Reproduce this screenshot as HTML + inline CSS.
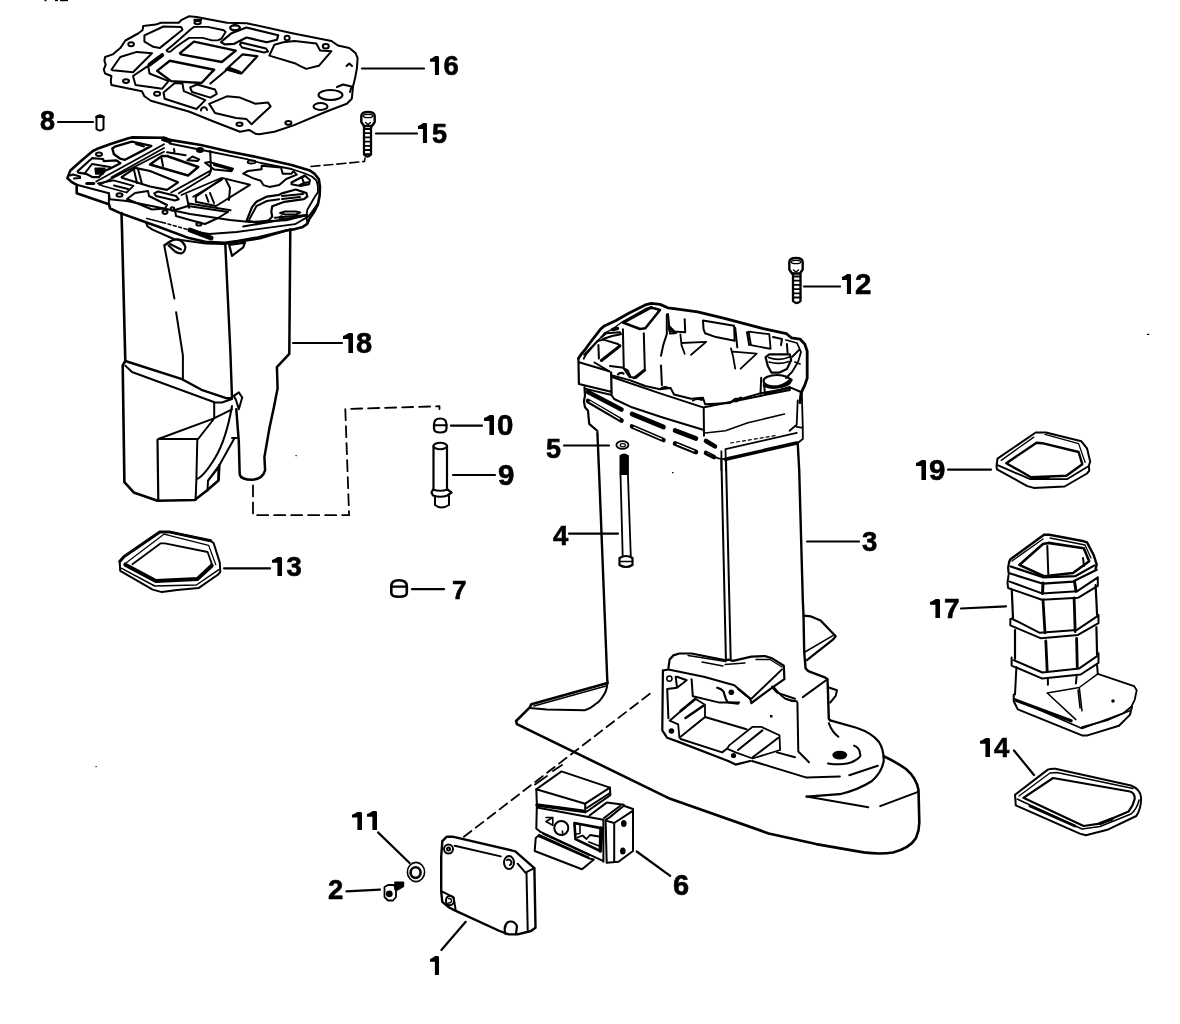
<!DOCTYPE html>
<html><head><meta charset="utf-8"><style>
html,body{margin:0;padding:0;background:#fff;width:1180px;height:1024px;overflow:hidden}
svg{display:block;will-change:transform}
.t{font-family:"Liberation Sans",sans-serif;font-weight:bold;fill:#000;stroke:#000;stroke-width:0.6px}
.t path{stroke:none}
</style></head><body>
<svg width="1180" height="1024" viewBox="0 0 1180 1024">
<g fill="none" stroke="#000" stroke-width="2" stroke-linejoin="round" stroke-linecap="round">

<!-- PART 16 gasket -->
<g id="p16">
<path d="M188.8 16.3L196.5 17L226.9 22.7L246.5 23.2L293.5 33.4L331.5 41L337.9 45.5L349.3 48L355.6 53.1L357.6 58.2L356.9 68.3L355 78.5L353.1 86.1L351.8 98.8L346.8 103.8L326.5 111.5L293.5 125.4L274.4 131.8L259.2 134.3L255.4 133.7L249 129.9L240 131.8L214.2 121.7L188.8 111.5L150.8 100.7L144.4 96.3L141.9 91.2L111.4 84.9L110.8 81.1L111.4 76L105.1 73.5L103.8 69.7L105.7 64.6L104.4 60.8L105.1 57L112.7 54.4L120.3 48.1L125.4 40.5L138.1 33.5L142.5 30.3L143.2 25.9L155.8 24.6L160.9 22.7L178.7 22.7L181.2 20.2Z"/>
<path d="M144.4 35.4L163.5 26.5L181.2 27.1L182.5 29.7L159.7 48.1L153.3 46.8L144.4 41.7Z"/>
<path d="M111.4 69.7L120.3 57L136.8 51.9L152 53.2L133 72.2L112.7 70.3Z"/>
<path d="M166.5 50.3L173.9 44.2L190.8 29.2L194.2 26.9L207.8 26.9L223.9 30.3L225.6 32L221.4 38.7L218 40.4L212 40.4L202.7 37.9L189.2 37.9L180.5 43.8Q175 47.5 170.8 51.3Q167.5 52.5 166.5 50.3Z" stroke-width="1.9"/>
<path d="M180 53.2L193.9 41.7L235.8 50.6L221.8 62L181.2 54.4Z" stroke-width="2.4"/>
<path d="M149.5 64.6L162.2 55.1" stroke-width="4"/>
<path d="M157.1 70.9L169.8 60.8L214.2 69.7L201.5 83L171.1 81.1L160 73Z" stroke-width="2.4"/>
<path d="M133 76L148.2 65.8L149.5 73.5L168.5 81.1L162.2 88.7L135.5 84.9Z"/>
<path d="M163.5 92.5L174.9 83L182.5 83.6L183.8 91.2L205.3 100.1L196.5 109L164.7 98.8Z"/>
<path d="M190.1 87.4L197 84.5L215 89.5L216.8 93.8L210.4 97.6L192 92Z"/>
<path d="M209.2 103.9L226.9 96.3L240 97.6L255.4 103.8L268.1 102.6L270.6 106.4L251.6 124.2L246.5 119.1L236 118L215 113Z"/>
<path d="M210.4 83.6L226.9 69.7"/>
<path d="M226 69.5L242.7 54.3L257.3 56.2L241.4 73.4Z" stroke-width="2.2"/>
<path d="M229 68.5L239.5 72.5" stroke-width="3.6"/>
<path d="M221 42L231 33.6L246.4 27.5L278.2 35.3L277 39.7L266.8 42.3L246.5 37.5L234.2 43.8L224.7 44.4Z" stroke-width="2.2"/>
<path d="M241 42.5L266 48.5L268 51.5L264 52.5L242 47.5L240 44.5Z"/>
<path d="M269.3 55.6L274.4 44.8L283.3 42.3L294.7 41L316.3 43.6L320.1 50.5L331.5 51.2L318.8 65.8L306.2 68.9L299.8 65.8L294.7 63.2Z"/>
<ellipse cx="330.5" cy="95" rx="12" ry="5"/>
<ellipse cx="320.5" cy="106.5" rx="7" ry="3.5"/>
<path d="M337 87L343 84.5L351.5 86.5L350 92"/>
<path d="M346.5 66L349.3 63.5L352 66"/>
<ellipse cx="131.1" cy="44.3" rx="2.8" ry="2"/>
<ellipse cx="126" cy="81.1" rx="3" ry="1.8"/>
<ellipse cx="157.1" cy="93.8" rx="3" ry="2"/>
<ellipse cx="197.6" cy="22.6" rx="3.2" ry="1.7" stroke-width="2"/><path d="M194.5 20H201" stroke-width="2.4"/>
<ellipse cx="235" cy="27.8" rx="4.8" ry="2.6" stroke-width="2.4"/>
<ellipse cx="287.1" cy="38" rx="2.5" ry="2.2"/>
<ellipse cx="325.8" cy="46.3" rx="3" ry="2.2"/>
<ellipse cx="288.4" cy="122.9" rx="3" ry="1.8"/>
<ellipse cx="239.5" cy="124.2" rx="3" ry="1.8"/>
<path d="M201 110.5A3 3 0 1 1 207 110"/>
</g>

<!-- PART 18 top plate -->
<g id="p18plate">
<path d="M67.4 178.1L70.4 170.4L81 161.1L92.8 151L96.2 149.3L109.8 144.2L128.4 138.2L132.6 137.4L164.4 137.8L169.5 139.9L200.8 145L230 151.8L256.4 157L291.5 165L309.1 170.2L314.4 173.7L318.8 179L320 186.9L319.6 195.7L317.9 204.5L314.4 211.5L309.1 219.4L307.3 223.8L302 227.3L295 229.1L286.2 230.5L256 237.9L237.4 241L224.8 242.8L205.3 241.8L189 238.1L158.5 226.7L145.8 222.2L120.3 213.1L110.2 208.5L108.9 204.3L76.7 193.3L76.7 184.8L71.9 182.2Z" stroke-width="2.6"/>
<path d="M76.7 184.8L108.9 193.3L109.8 199.3L126.7 201L164 208.6L190 214L230 220L250 222L286.2 220.3L307.3 215"/>
<path d="M108.9 193.3V204.3"/>
<path d="M169.5 143.5L209.3 151.5L245.8 158.8L260.8 163L291.5 169L305 173.5L312 176.5L316.5 180.5L317.9 186L317.9 192.2L314.4 197.5L307.3 209.8L306.4 216.8L307.3 222.1" stroke-width="1.8"/>
<path d="M163.6 139L169.5 141" stroke-width="5"/>
<path d="M112.3 148.4L114.8 146.7L131.8 141.6L151.3 145.9L143.7 150.1L125 159.8L120 158.6L114 154.3Z" stroke-width="2.4"/>
<path d="M136 144L144 146.5"/>
<path d="M77.6 171.3L92 158.2L103 159L103.8 161.1L116.5 160.3L120.4 163.2L109.8 168.7L105.5 170.4L98.7 177.2L92.8 177.2L86 173.8L78.4 172.6Z" stroke-width="2.2"/>
<path d="M85 173L92 164L104 166L110 167"/>
<path d="M95.4 168.5L104.7 168.5L103 173.8L96 173.8Z" fill="#000"/>
<ellipse cx="99" cy="154.3" rx="3" ry="1.7"/>
<path d="M70 175.5L73 174.5L80 176.5L80.1 178.1L74 178.5" />
<path d="M86.9 183.5H93.7" stroke-width="3.2"/>
<path d="M96.2 181.5L164 144.2M99.6 184.8L164 151.8M111.5 177.2L164 148" stroke-width="1.8"/>
<path d="M150 164.5L161.9 156L167 156L198.3 167L188.1 175.5Z" stroke-width="2.4"/>
<path d="M161.5 158L163 166"/>
<path d="M187.3 160.3L192.4 156.5L199.2 159.4L197.5 161.1Z"/>
<path d="M167 152.2L185.6 155.2M174 149L174.5 152"/>
<ellipse cx="200" cy="150.1" rx="3" ry="2" fill="#000"/>
<path d="M205 162.8L209.3 162L233 168.7L231.4 171.3L214.4 169.6Z M214 165L231 169.5"/>
<path d="M210.2 151L211 170.4L209.3 174.7"/>
<path d="M121.6 177.2L135.2 167.9L150 171L178 182.3L167 189.9L150 186.5L122.5 178Z" stroke-width="2.2"/>
<path d="M134 170L137 183M138 169L142 184"/>
<path d="M171.2 192.5L211 170.4M178.8 193.3L209.3 174.7M181.4 195L221.2 178M193.2 196.7L222 179.8" stroke-width="1.8"/>
<path d="M195.8 196.7L222.9 178.1L250 184.8L216.1 206L195.8 201.8Z" stroke-width="2"/>
<path d="M205.9 195L208.5 201.8M210 193L214 203M226 180L230 188L229 200"/>
<path d="M154.2 193.3L158 191.5L176 196L178.8 199.3L175 200.5L156 196Z"/>
<path d="M98 183.5L103 186L126.5 192.5L133.5 185.8L113.5 180.3Z" stroke-width="1.8"/><path d="M114 185.5L128 189"/>
<ellipse cx="119.5" cy="195" rx="3" ry="1.7"/>
<path d="M127 199L135 193L148 191L149 196L167 205L165 208.5L152 209.5Z"/>
<path d="M186.4 195L189 207.7M189 203.5L230.5 210.3"/>
<circle cx="172.4" cy="209" r="1.8"/>
<path d="M175 210L188 206L215 210L228 212L218 218L205 224L190 220L176 216Z"/>
<path d="M243.2 173.7L252.8 178.1L260.8 180.8L263.4 185.1L269.5 186.9L279.2 185.1L286.2 179L296.8 174.6L293.3 171.1L291.5 173.7L282.7 173.7L281 167.6L261.6 165.8L261.6 169.3L247.6 171.1Z" stroke-width="2"/>
<ellipse cx="251.6" cy="161.9" rx="4" ry="1.6" stroke-width="1.8"/>
<path d="M291.5 182.5L304.7 175.5L310 179.9L309.1 184.3L300.3 186L291.5 184.3Z M302 178L304 183L300 185M304 183L309 182"/>
<path d="M246.7 220.3L252 207.1L256.4 201.8L266.9 196.6L279.2 194.8L282.7 193.1L295.9 189.5L306.4 193.1L307.3 196.6L303.8 199.2L284.5 201.8L272.2 206.2L271.3 211.5L272.2 216.8L268.7 220.3L257.2 222.9Z" stroke-width="2.2"/>
<path d="M249.3 219.4L256.4 206.2L266.9 201L279.2 199.2M282 196L303 194M282 199L300 197"/>
<path d="M280.1 213L285 211.5L296 211.5L300.3 212.4L296 214.5L285 214.5Z"/>
<circle cx="281.4" cy="217.7" r="1.5"/>
<path d="M274.8 217.7L307.3 215"/>
<path d="M243.2 226.4L269.5 222.1L307.3 215"/>
<ellipse cx="165" cy="212.1" rx="2.5" ry="1.8"/>
<ellipse cx="198.9" cy="224" rx="2.6" ry="1.6"/>
<path d="M190 230L211 238" stroke-width="5"/>
<path d="M300 178L305 176" />
</g>
<!-- PART 18 body -->
<g id="p18body">
<path d="M121.5 213L122 230L125.3 361L122.7 365.3L124.4 482.2L133.7 492.4L157.5 500.8L194.7 500L206.6 490.7L218.5 480.5L219.3 465.3" stroke-width="2.6"/>
<path d="M125.3 361L181.2 378.8L201.5 389.8L226.9 398.3L232 398.3" stroke-width="2.4"/>
<path d="M125.3 365.6L132 372L215.1 402.5L221.9 402.5L232 399"/>
<path d="M214.2 402.5V417.8"/>
<path d="M158.3 439L198.1 439L213.4 419.5M158.3 439L213.4 418.6L232 409.3" />
<path d="M157.5 439.8L158.3 500.8" stroke-width="2.2"/>
<path d="M197.3 439.8L196.4 478.8L195.6 500"/>
<path d="M232 406Q226 440 215 458T197.3 478.8"/>
<path d="M234 439L219.3 465.3L208 480.5L207.5 490.7"/>
<path d="M208.3 480.5L218.5 467.5L218.5 480.5"/>
<path d="M233.7 395.8L238.8 392.4L242.2 397.5L238.8 409.3L236 400Z"/>
<path d="M236.3 409.3L238.8 441.5L239.7 474.6Q241 479.7 252.4 479.7Q262.5 479 265.1 470.3L264.4 457.1L269.5 427.8L273.9 407.3L277.6 388.3L276.9 367.1L289.3 353.9L290.3 229.5" stroke-width="2.5"/>
<path d="M232 438H237"/>
<path d="M225.3 244.4L230.3 350L232 397.5" stroke-width="2.4"/>
<path d="M164.2 245.3L174.4 298.6M176.1 312.2L182.9 355.4L182.9 380"/>
<path d="M164.9 245L170 241.5Q174 239 178.5 239.6Q183.5 241.5 185.4 247Q185 252 181.5 253.4Q178 253.6 175 251.5L168.6 245.5" stroke-width="2.2"/><path d="M170 244L181 249.5"/>
<path d="M229.2 245L245 242.7L243.2 247.4L232 255.8Z" stroke-width="2.2"/>
<path d="M146.2 222.9L147.5 226.3L152.5 229.7L173.7 239L205.9 243.6L224.6 244.1L260 238.5L290 229.5"/>
<path d="M146.8 218.4L162.7 222.5" stroke-width="1.6"/><path d="M162.7 222.5L189.7 230.1L200 232.3" stroke-width="1.5" stroke-dasharray="3 2.5"/><path d="M200 232.3L209.2 234L236.5 232L295 224.2L308.6 216.4L318.3 202.8" stroke-width="1.8"/>
</g>
<path d="M253 485.4V515.2H349.1L345.3 409L439.5 406.2V409" stroke-dasharray="11 6" stroke-width="1.8"/>
<!-- pins -->
<g id="pins">
<path d="M434 424.5Q434 418.5 440.2 418.5Q446.5 418.5 446.5 424.5V428.5Q446.5 432.5 440.2 432.5Q434 432.5 434 428.5Z" stroke-width="2.2"/>
<path d="M434 425.3H446.5" stroke-width="2"/>
<path d="M433.5 446V490M447 446V490" stroke-width="2.2"/>
<ellipse cx="440.2" cy="446" rx="6.8" ry="3.2"/>
<path d="M431.5 492.5L433 489.5Q440 492 447.5 489.5L451.5 492.5L447.5 495.5Q440 498 433 495.5Z" stroke-width="2.2"/>
<path d="M435 496V505Q441 510 449 505V496" />
<path d="M96.5 117V129Q100 132 103.5 129V117Z"/>
<path d="M96.5 117Q100 114 103.5 117" stroke-width="2.6"/>
<path d="M391.3 586Q391.3 580.2 399 580.2Q406.8 580.2 406.8 586V593Q406.8 596.8 399 596.8Q391.3 596.8 391.3 593Z" stroke-width="2.6"/>
<path d="M391.3 586.6H406.8" stroke-width="2.4"/>
</g>
<!-- screws 15 and 12 -->
<g id="screws">
<path d="M361.3 116Q361.5 112 368.0 112Q374.5 112 374.7 116V122L372.0 126H364.0L361.3 122Z" stroke-width="2.4"/>
<ellipse cx="368.0" cy="116" rx="4.7" ry="1.6" stroke-width="1.4"/>
<path d="M365.5 122.5L368.0 124.5L370.5 122.5" stroke-width="1.4"/>
<path d="M364 126V154.5Q367.5 158.5 371 154.5V126" stroke-width="2.3"/>
<path d="M364 129.0H371M364 133.2H371M364 137.4H371M364 141.6H371M364 145.8H371M364 150.0H371M364 154.2H371" stroke-width="1.8"/>
<path d="M789.3 262Q789.5 258 796.0 258Q802.5 258 802.7 262V269.5L800.0 273.5H792.0L789.3 269.5Z" stroke-width="2.4"/>
<ellipse cx="796.0" cy="262" rx="4.7" ry="1.6" stroke-width="1.4"/>
<path d="M793.5 270.0L796.0 272.0L798.5 270.0" stroke-width="1.4"/>
<path d="M793 273.5V301.0Q796.75 305.0 800.5 301.0V273.5" stroke-width="2.3"/>
<path d="M793 276.5H800.5M793 280.7H800.5M793 284.9H800.5M793 289.1H800.5M793 293.3H800.5M793 297.5H800.5" stroke-width="1.8"/>
</g>
<path d="M311 166.5L364.5 161.5L365 158" stroke-dasharray="9 4" stroke-width="1.6"/>

<!-- PART 3 main housing -->
<g id="p3">
<!-- rim outline -->
<path d="M578.4 358.6L580.9 354.7L585.7 348.8L590.6 342L600.4 329.3L604.3 325.9L616 320.5L629.7 312.7L645.3 304.9L651.2 303.4L660 304.4L667.8 307.8L674 308.6L697.6 311.8L724.4 318.3L763.2 328.7L786.4 333.6L791.3 337.8L799.9 339.1L804.7 343.9L807.2 351.3L807.2 378.1L804.7 385.4L801.1 392.8L799.9 402.5" stroke-width="2.8"/>
<path d="M583.8 354.7L587.7 350.8L601.4 337.1L604.3 333.2L612.1 329.3L622.9 321.5L645 309L652 306.5" stroke-width="1.4"/>
<path d="M578.4 358.6L578.9 384L611.1 391.8M579.9 362.5L609.2 371.3M611.1 372.3L611.6 393.8" stroke-width="2.2"/>
<path d="M611.1 375.2L629.7 380.1L645.3 386L660 389.2L670.7 388.1L674 394.5L691.1 398.8L703 397.7L705.1 404.2L729.8 403.1L735.2 398.8L741.6 398.8L760 393.4L791.3 387.9L801 392" stroke-width="2"/>
<path d="M612 377L660 393.4L703 407.4L760 396L790 390"/>
<!-- left compartment -->
<path d="M583.8 358.6L585.7 354.7L597.5 341L603.3 339.6L618 344L620 345.9L604.3 358.6" stroke-width="2"/>
<path d="M598.4 345L598.9 358.6"/>
<path d="M601.4 360.5L620 345.9" stroke-width="3"/>
<path d="M601.4 337.1L606.3 333.2L620 332.2L621 334.2L612 336L603 339"/>
<path d="M612.5 329.5L617.5 328.5" stroke-width="3.5"/>
<path d="M594.5 362.5L609.2 371.3M610 366L621.9 367.4L627.7 370.3L630.7 377.1L635.5 378.1L645.3 370.3"/>
<!-- tall block -->
<path d="M622.9 322.5L627 320.5L650.6 307.8L655 308.5L660 310L645.3 328.3L640 329Z" stroke-width="2.6"/>
<path d="M622.9 329.3L623.8 368.4M643.8 333.2L644.8 369.3L633.6 378.1M623.8 368.4L629.7 377.1" stroke-width="2"/>
<path d="M666.8 314.6L666.8 334.2Q663 344 661 355.7M661 365.4L661.9 385" stroke-width="2"/>
<path d="M668.8 326.4L674.6 333.2L670 333.5Z"/>
<path d="M618 374.5Q620 372 623.5 373.5" stroke-width="2.2"/>
<path d="M661 388.5Q664 386 668.5 388" stroke-width="2"/>
<path d="M693 400.5Q697 398 702 400" stroke-width="2"/>
<path d="M736 401L741 398" stroke-width="3"/>
<!-- mid compartments -->
<path d="M668 314L669.7 331.2L685.2 332.2L684.7 319.3M669 326L676 333" stroke-width="2"/>
<path d="M680.4 334.4L681.5 345.1L684.7 353.7M681.5 343L706.2 341.9L691.1 354.8" stroke-width="1.8"/>
<path d="M703 320.4L734.1 325.8L734.7 340.8L715.9 337.1L705.1 333.3L703.5 329Z" stroke-width="2"/>
<path d="M730.9 348.3L733 355.9L735.2 368.7M733 351.6L756.7 353.7L740.6 368.7" stroke-width="1.8"/>
<path d="M735.2 327.9L737.3 347.3M747 332.2L749.2 345.1"/>
<path d="M748.6 331.7L769.3 334.2L770.6 348.8L751 345.2Z" stroke-width="1.8"/>
<!-- right bosses -->
<path d="M765.6 357.2L769.3 354.3L789.8 354.3L791.2 360.1L786.9 368.9L779.5 372.6L771.5 372.6L767.8 366Z" stroke-width="2.2"/>
<path d="M768.5 357.5Q779 361.5 789.5 357M769 362Q779 365 789 361.5" stroke-width="1.6"/>
<path d="M786.9 344L787.6 352.8"/>
<ellipse cx="777" cy="381" rx="13.5" ry="6" stroke-width="2.2"/><path d="M764.5 385.5Q778 391 791 380" stroke-width="3.4"/><path d="M761.2 377.7L760.5 393.8" stroke-width="2"/>
<path d="M764 384L765 394L790 387"/>
<path d="M786 340L797 343L801 352L798 362L792 372L786 378M792 357L799 350M795 362L800 364" stroke-width="1.8"/>
<path d="M773 337L782 339L781 345" />
<!-- skirt -->
<path d="M584.5 387.1L585 395.4L583.9 401.4L585 407.3L588 410.8L589.2 423.9L597.5 431" stroke-width="2.2"/>
<path d="M585.7 388.9L610.6 394.8"/>
<g stroke-width="4.6">
<path d="M588 392L621.5 409.5M588 401L621.5 420.5M632 414L663.5 427M632 426.5L663.5 440M675 430.5L696 438.5M675 443.5L696 452M706 441L715 446.4M706 453L714 457"/>
</g>
<g stroke="#fff" stroke-width="1.2">
<path d="M590 401.5L619.5 419M634 427.2L661.5 439M677 444L694 451M707 453.3L713 456.3"/>
</g>
<path d="M611.8 395.4L614.1 399L631.9 407.3L660.4 416.8L675.8 421.5L703.1 429.8" stroke-width="2"/>
<path d="M703.7 408.5L704 435.8" stroke-width="2"/>
<path d="M705.2 432.9L725.5 430.8L747.9 422.7L784.5 414.1" stroke-width="1.5"/>
<path d="M725.5 449.2L796.7 432.9" stroke-width="1.8"/>
<path d="M725.5 459.3L796.7 443" stroke-width="3.6"/>
<path d="M730.6 443L776.4 435.4" stroke-width="1.2" stroke-dasharray="3 3"/>
<path d="M796.7 426.8L802.8 427.8L802.8 439L797.7 443M789.6 430.8L796.7 424.7L797.7 400.3M801.8 392.2L802.8 427.8" stroke-width="1.8"/>
<path d="M721.4 451.2L721.4 470M725.5 450.2L726 470M705 453L718.4 458.3L725 459" stroke-width="1.8"/>
<!-- tube -->
<path d="M597.4 432.9L599.4 480L607.3 680.7" stroke-width="2.4"/>
<path d="M721.4 460L725.9 659.3M726 460L730.7 659.3" stroke-width="2"/>
<path d="M797.7 443L799.2 470L802.8 600L803.5 615L804.2 652L805.6 668.4L808.3 671.1L824.7 677.3L827.5 679.3L828.1 695.8L828.8 719L830.2 720.4" stroke-width="2.4"/>
<path d="M803.5 615.7L811 616.4L820.6 620.5L835.7 636.3L832.9 639.7L806.9 660.2" stroke-width="2.2"/>
<path d="M804.9 652L832.9 635.6" stroke-width="1.6"/>
<!-- cavitation plate -->
<path d="M607.6 681.4Q607 690 604.6 693.6Q600 702 595.4 704.2Q590 709 584.7 710.3L546.6 709.6L529.8 708" stroke-width="2"/>
<path d="M607.6 682.9L531.4 704.2L529.8 707.3L516.1 721L516.9 724.1L670.2 798.8L768.7 833.4L816.1 844.1L863.6 852.4Q880 854.5 893 852.5Q910 848 916 838Q919.5 830 919.3 822L918.5 790Q916.5 778 906 769Q896 762 883.7 756.3" stroke-width="2.6"/>
<path d="M606 686L534 706" stroke-width="1.4"/>
<!-- right tail -->
<path d="M830.2 720.4L856.4 727.8Q872 733 879 742Q884 750 883.7 761Q882 772 872 781Q858 790 839.8 794.2L806.6 796.6" stroke-width="2.2"/>
<path d="M806.6 796.6L868.3 807.3M880.2 806.1L918.1 791.9"/>
<path d="M752 761L806.6 777.6L839.8 776.4M849.3 775.3L877.8 765.8"/>
<ellipse cx="839.8" cy="755.1" rx="6.5" ry="3.4" fill="#000"/>
<path d="M828 763.4Q845 766 854.1 761Q862 757 860 753.9Q860 748 854.1 745.6" />
<path d="M828.8 723.1Q832 732 838.4 736.8"/>
<path d="M828.8 687.5L837 690.3L835.7 695.8L830.2 702.6M827.5 679.3L802.8 697.1"/>
<path d="M797.4 702.6L798.3 751.5L809 762.2M774.1 687.5Q780 695 785 698.5Q790 701 796.7 701.2"/>
<!-- water pickup box -->
<path d="M668.4 668.2L669.6 659.6L673.3 655.4L679.4 653.5L691.6 653.5L725.8 660.3L728.2 659.6L733.1 660.9L751.4 656.6L764.9 656L772.2 658.4L783.8 665.7L784.4 679.2L772.2 687.7L751.4 703L750.2 698.7L738 688.9" stroke-width="2.2"/>
<path d="M662.9 670.6L668.4 669.4L703.8 676.7L734.3 685.3L750.2 698.7M782 669.4L751.4 698.7" stroke-width="2"/>
<path d="M688 655.5L726 661.5M702 662L723 666M725 664.5L745 663M756 659.5L770 659.5L782 667" stroke-width="1.3"/>
<path d="M662.9 670.6L662.3 730.4L667.2 737.8L680.6 742.6L728.2 761L735.6 764.6L750.2 761" stroke-width="2.2"/>
<path d="M667.2 689L668.4 718.2M667.2 689L677 687.7L675.7 676.7M677 676.7L686.7 680.2L677 687.7"/>
<circle cx="669.4" cy="678.6" r="2.6" stroke-width="1.5"/>
<circle cx="671.4" cy="731" r="2.8" fill="#000" stroke="none"/>
<path d="M691.6 679.2L692.8 696.3L718.5 702.4L739.2 702.4"/>
<path d="M717.2 687.7Q722 689 723.4 691.4L725.8 698.7Q727 702 728.2 702.4L738 703.6" stroke-width="2.2"/>
<circle cx="731.3" cy="692.2" r="2.8" fill="#000" stroke="none"/>
<path d="M739.2 689.5L750.2 698.7"/>
<path d="M669.6 720.7L695.3 698.7L705 704.8L705 717L679.4 737.8L678.2 724.3Z" stroke-width="1.8"/>
<path d="M680.6 711L695.3 699M685.5 718L703 706" stroke-width="2.6"/>
<path d="M690 729L704 718" stroke-width="1.4"/>
<path d="M705 717L746.5 729.2M680.6 739L722.1 752.4L727 748.7"/>
<path d="M727 748.7L729.5 745.1L752.6 726.8L761.2 726.8L779.5 735.3L780.1 750L752.6 758.5L735.6 752.4Z" stroke-width="1.8"/>
<path d="M738 750L762.4 730.4M752.6 757.3L778.3 737.8"/>
<circle cx="733.5" cy="755.5" r="2.6" fill="#000" stroke="none"/>
<path d="M772.2 686.5Q774 690 777 692.6L795 698.7M777 752.4L795 757.3"/>
<rect x="770" y="715" width="2.5" height="2.5" fill="#000" stroke="none"/>
</g>

<!-- stud 4 & washer 5 -->
<g id="p45">
<ellipse cx="622.4" cy="445" rx="6" ry="3.8" stroke-width="1.8"/>
<ellipse cx="622.8" cy="445.3" rx="2.6" ry="1.6" stroke-width="1.2"/>
<path d="M620.5 456Q624 453 627.9 456V474H620.5Z" fill="#000"/>
<path d="M620.5 474L622.7 556M627.9 474L630.8 556" stroke-width="1.8"/>
<path d="M619.5 558Q626 554 632.5 558V565Q626 569 619.5 565Z" stroke-width="2.2"/>
<path d="M620 561.5H632" stroke-width="1.5"/>
</g>
<!-- dashed line cover1 -> pickup -->
<path d="M463.9 836.8L652.5 691.7" stroke-dasharray="9.5 5.5" stroke-width="1.8"/>
<!-- PART 6 -->
<g id="p6">
<path d="M536.3 789.2L561.5 771.4L609.9 787.6L585.2 803.7Z" stroke-width="2"/>
<path d="M536.3 789.2L536.8 803.1M585.2 803.7L585.2 812.3M609.9 787.6L610.4 795.1L587.3 811.2"/>
<path d="M537 805L585.2 811.5" stroke-width="3.6"/>
<path d="M586.8 808L609.9 793"/>
<path d="M536.8 806.9L536.3 828.4L540 831.6M536.8 807.4L603.4 819.8L603.4 861.7M540 831.6L602.4 860.6" stroke-width="2"/>
<path d="M605.6 819.8L609.9 817.1L623.8 805.8L633 809L633 851L618.5 861.7L606.7 862.8L605.6 819.8" stroke-width="2"/>
<path d="M606.7 820.9L614.2 823L632.4 811.2M614.2 823L614.2 861.7"/>
<path d="M589.5 815.5L606.7 802.6L623.8 804.8M604 818L620 806"/>
<ellipse cx="623.8" cy="823.5" rx="1.8" ry="2.6" fill="#000"/>
<ellipse cx="622.8" cy="851" rx="1.8" ry="2.6" fill="#000"/>
<circle cx="561.3" cy="828" r="7" stroke-width="2"/><path d="M562.5 835.5V831" stroke-width="1.6"/>
<path d="M546 817.5H552.8V825M552.8 817.5L546 821.5L552.8 825.3" stroke-width="1.6"/>
<path d="M574.4 823L602.4 828.4L600.2 851L575.5 839.1Z" stroke-width="2.6"/>
<path d="M577.5 837.5L582.5 835.5L586.5 839L590 835L599 836.5M589 842L599 846" stroke-width="1.8"/><path d="M601 828L600.3 851" stroke-width="3.5"/><path d="M575.5 823.5L580 824.5V833.5L575.5 834" stroke-width="1.6"/>
<path d="M535.7 838.1L537.9 835.9L589.5 858.5L593.8 859.5L583.6 868.1L581.9 869.2L534.7 851Z" stroke-width="2"/>
<path d="M539 834.8L588.4 857.4M543.3 833.8L589.5 855.2"/>
<path d="M547 776L535 784.5M553 771L562 765" stroke-width="1.8"/>
</g>
<!-- PART 1 cover -->
<g id="p1">
<path d="M442.3 841.2L446.8 836.7L452.5 836.7L515.3 851.3L534.4 868.2L535.5 927.7L531 931L517.6 934.4L508.6 934.4L499.6 931L455.8 910.8L449.1 907.5L442.3 901.8L441.2 891.7L441.2 856.9Z" stroke-width="2.4"/>
<path d="M454.7 845.7L500.7 856.4M517.6 863.7L525.4 872.7M526.5 872.7L527.7 929.9M525.4 872.7L534.4 868.2"/>
<path d="M442.3 891.7L453.6 897.4L455.8 910.8"/>
<circle cx="448.5" cy="849.1" r="4.5" stroke-width="2"/>
<circle cx="448.5" cy="849.1" r="1.5"/>
<ellipse cx="509" cy="862.6" rx="5" ry="6.5" stroke-width="2"/>
<path d="M507 860A2.5 2.5 0 1 1 510 865"/>
<ellipse cx="450" cy="900.5" rx="4" ry="4.8" stroke-width="2"/><path d="M448.5 898.5Q451.5 898 451.5 901Q451 903.5 448.5 903" stroke-width="1.4"/>
<path d="M505.5 934Q503 926 508 922Q514 920 517 926L516 934" stroke-width="2.2"/>
</g>
<!-- 11 washer & 2 screw -->
<g id="p11">
<ellipse cx="416" cy="872" rx="8.6" ry="9.6" stroke-width="1.6"/>
<ellipse cx="415.6" cy="872.6" rx="5" ry="5.3" stroke-width="2.6"/>
<path d="M394.3 881.4L403.5 881.6Q404.5 882 404.3 884L404 887L397 891L394.2 890Z" fill="#000" stroke="none"/>
<path d="M384.5 887L388 885L394 885L396 889L396 897L393 900.5L388 900.5L384.5 897Z" stroke-width="1.8"/>
<circle cx="389.3" cy="893.8" r="2.4" fill="#000"/>
</g>
<!-- 13 gasket -->
<g id="p13">
<path d="M119.7 561.6L124.2 556.5L159.8 532.1L170 532.1L210.7 540.8L213.7 543.3L219.8 562.6L220.3 571.8L217.8 574.8L198.5 588.1L177.1 590.1L161.9 592.1L152.7 589.6L120.2 570.8Z" stroke-width="2"/>
<path d="M119.7 561.6L124.2 556.5L159.8 532.1L170 532.1L210.7 540.8" stroke-width="3"/>
<path d="M132.4 564.2L160.8 543.3L164.9 543.3L207.6 552L211.7 563.6L210.7 567.2" stroke-width="1.8"/>
<path d="M125.3 564.7L155.8 581L197.5 578.9L211.7 565.7" stroke-width="4"/>
<path d="M125.3 563.6L163.9 534.2L208.6 545.3L215.8 564.7" stroke-width="1.2"/>
<path d="M121.2 568.2L154.7 586L196.4 585L218.8 569.7" stroke-width="1.5"/>
</g>
<!-- 19 gasket -->
<g id="p19">
<path d="M997.5 458.6L1035.7 432.5L1045.9 432.5L1081.4 441.3L1087 448.3L1090.2 461.4L1088.8 466L1089.3 470.7L1087 473.5L1064.6 486.5L1033.8 487.9L1027.3 486.1L997 469.3L996.5 466Z" stroke-width="2"/>
<path d="M1006.3 463.2L1036.6 442.7L1042.2 443.2L1078.6 452L1082.3 464.2L1066.4 475.8L1031 477.2Z" stroke-width="2.4"/>
<path d="M1001.2 460.4L1033.8 437.1M1045 434.3L1078.6 443.6L1085.1 462.3" stroke-width="1.3"/>
<path d="M997.5 465.1L1030.1 479.1L1067.4 479.1L1088.8 466" stroke-width="1.8"/>
<path d="M1032 478L1048 478" stroke-width="3"/>
</g>
<!-- 14 gasket -->
<g id="p14">
<path d="M1015 794.7L1047.8 769.6Q1051 768.5 1055.4 768.8L1131 785.5Q1140 789 1141 797Q1141.5 808 1136.3 816L1107.3 829.8L1085.9 835.2L1079.8 833.6L1015.8 805.4Z" stroke-width="2"/>
<path d="M1023.4 797.8L1053.1 778L1130 791.5Q1135 793 1134.7 799Q1133 806 1128.6 811.5L1099.7 823.7L1083.6 826Z" stroke-width="2.2"/>
<path d="M1019 796L1050 773L1057 772.5L1133 788.5" stroke-width="1.3"/>
<path d="M1017 799L1082 829L1100 826.5L1131 814Q1137 809 1139 800" stroke-width="1.5"/>
<path d="M1030 806L1075 826M1100 823.5L1112 819" stroke-width="3"/>
</g>
<!-- PART 17 -->
<g id="p17">
<path d="M1009.1 562.2L1010.2 559.5L1044 534.8L1049.4 534.8L1083.8 541.3L1087 542.4L1093.5 554.7L1096.7 564.4L1095.6 568.7" stroke-width="2.4"/>
<path d="M1019.3 564.9L1043 544L1048.3 542.9L1083.8 548.3L1089.2 561.2L1073 573L1044 576.2Z" stroke-width="2.6"/>
<path d="M1012 561L1043 539M1050 538L1085 545L1091 558" stroke-width="1.3"/>
<path d="M1047.3 546.1L1048.3 574M1083 558L1084 566"/>
<path d="M1008.1 567.6L1008.6 573L1043 583.7L1073 581.6L1096.7 569.7M1010.7 566.5L1043 577.3L1075.2 576.2L1094.5 565.4M1009.1 562.2L1008.1 567.6" stroke-width="2.2"/>
<path d="M1043 583L1042.5 593.4M1074.5 581.5L1076 591.2" stroke-width="3"/>
<path d="M1007.5 582.6L1008.1 588L1041.9 599.8L1078.4 597.7L1097.8 585.9L1097.8 577.3M1009.7 581.6L1041.9 593.4L1077.3 591.2L1097.8 577.3M1007.5 582.6L1008.6 575" stroke-width="2"/>
<path d="M1011.8 590.2L1013 618M1095.6 585L1097.1 615" stroke-width="2.2"/><path d="M1043 600L1045 632.8M1074.1 598L1075.2 631.5" stroke-width="2.8"/>
<path d="M1010.3 619.1L1010.3 625.3L1041 638.3L1078 634.9L1098.5 623.2L1098.5 615M1011.6 618.5L1039.7 632.8L1076.6 630.1L1097.1 616.4" stroke-width="2"/>
<path d="M1015 630L1015 658.8M1096.4 627.3L1097.1 654.7" stroke-width="2.2"/><path d="M1045.8 641L1047.2 671.1M1076.6 638.3L1077.3 668.4" stroke-width="2.8"/>
<path d="M1011.6 657.4L1011.6 665.6L1042.4 678.6L1080.7 674.5L1098.5 662.9L1098.5 653.3M1013.7 660.2L1042.4 672.5L1079.3 668.4L1097.1 656.1" stroke-width="2"/>
<path d="M1016.4 667L1015 694.4M1047.9 679.3L1047.9 684.8M1076.6 676.6L1075.9 683.4M1097.1 665.6L1097.8 673.8" stroke-width="2"/>
<path d="M1097.8 673.8L1134 686.1L1136.7 690.2L1134.7 699.8L1131.3 706.7L1123.1 713.5L1106.7 720.3L1082 727.2" stroke-width="1.8"/>
<path d="M1047.2 693L1079.3 687.5L1082 710.8M1047.2 693L1075.9 719.6M1079.3 687.5L1097.8 673.8M1078 690L1080 708" stroke-width="1.5"/>
<path d="M1013.7 694.4L1013.7 701.2L1017.8 709.4L1082 735.4L1087.5 735.4L1119 725.8L1129.9 714.9L1132 706.7" stroke-width="2"/>
<path d="M1013.7 698.5L1082 728.5L1129.9 710.8" stroke-width="1.6"/>
<path d="M1016.4 700.5L1071.1 720.8" stroke-width="3.2"/>
<circle cx="1113" cy="701" r="0.8"/>
</g>
<!-- LEADERS -->
<g id="leaders" stroke-width="2.2">
<path d="M362 68.5H424"/>
<path d="M376 133.5H417"/>
<path d="M58 122H93"/>
<path d="M804 286.5H840"/>
<path d="M293 343H342"/>
<path d="M451 425.7H482"/>
<path d="M564 445.5H609"/>
<path d="M453 475H495"/>
<path d="M948 469.6H991"/>
<path d="M569 533.6H618"/>
<path d="M807 541.5H859"/>
<path d="M224 568.3H270"/>
<path d="M412 589.2H444"/>
<path d="M961 608.5L1006 606.4"/>
<path d="M1014 750.5L1034 775"/>
<path d="M378 832.4L409.6 863"/>
<path d="M346.4 891.3L380 889.6"/>
<path d="M441.4 950L465.7 921.8"/>
<path d="M636.7 851.5L670.2 875.9"/>
</g>
</g>
<g fill="#000" stroke="none">
<rect x="44.5" y="0" width="2" height="1.2"/><rect x="55" y="0" width="3" height="1.2"/><rect x="60" y="0" width="8" height="1.2"/>
<rect x="1147" y="333.8" width="2.4" height="1.2"/>
<rect x="95.5" y="766" width="1.2" height="1.2"/>
<rect x="295.5" y="455" width="1.2" height="1.2"/>
<rect x="672" y="472" width="1.5" height="1.2"/>
</g>
<!-- LABELS -->
<g class="t">
<path d="M435.2 56.0L438.1 56.0L439.0 57.0L439.0 75.0L434.9 75.0L434.9 61.7L430.0 61.7L430.0 58.9L432.2 57.9L434.1 56.7Z"/>
<text x="443.5" y="75.0" font-size="27.5">6</text>
<path d="M423.2 123.0L426.1 123.0L427.0 124.0L427.0 143.0L422.9 143.0L422.9 129.0L418.0 129.0L418.0 126.0L420.2 125.0L422.1 123.7Z"/>
<text x="432.0" y="142.5" font-size="27">5</text>
<text x="40.0" y="129.5" font-size="27">8</text>
<path d="M847.2 274.0L850.1 274.0L851.0 275.0L851.0 294.0L846.9 294.0L846.9 280.0L842.0 280.0L842.0 277.0L844.2 276.0L846.0 274.7Z"/>
<text x="855.0" y="294.0" font-size="29.5">2</text>
<path d="M348.8 333.0L352.1 333.0L353.0 334.0L353.0 353.0L348.4 353.0L348.4 339.0L343.0 339.0L343.0 336.0L345.5 335.0L347.5 333.7Z"/>
<text x="356.0" y="353.0" font-size="29">8</text>
<path d="M489.8 415.0L493.1 415.0L494.0 416.0L494.0 435.0L489.4 435.0L489.4 421.0L484.0 421.0L484.0 418.0L486.5 417.0L488.5 415.7Z"/>
<text x="497.0" y="435.0" font-size="29.5">0</text>
<text x="546.0" y="457.5" font-size="27">5</text>
<text x="498.0" y="485.0" font-size="29.5">9</text>
<path d="M921.8 460.0L925.1 460.0L926.0 461.0L926.0 480.0L921.4 480.0L921.4 466.0L916.0 466.0L916.0 463.0L918.5 462.0L920.5 460.7Z"/>
<text x="929.0" y="480.0" font-size="29.5">9</text>
<text x="553.0" y="545.0" font-size="27.5">4</text>
<text x="862.0" y="551.0" font-size="27.5">3</text>
<path d="M277.8 557.0L281.1 557.0L282.0 558.0L282.0 576.0L277.4 576.0L277.4 562.7L272.0 562.7L272.0 559.9L274.5 558.9L276.5 557.7Z"/>
<text x="286.5" y="576.0" font-size="27.5">3</text>
<text x="452.0" y="599.0" font-size="26">7</text>
<path d="M935.8 599.0L939.1 599.0L940.0 600.0L940.0 618.0L935.4 618.0L935.4 604.7L930.0 604.7L930.0 601.9L932.5 600.9L934.5 599.7Z"/>
<text x="944.0" y="618.0" font-size="28">7</text>
<path d="M985.8 738.0L989.1 738.0L990.0 739.0L990.0 757.0L985.4 757.0L985.4 743.7L980.0 743.7L980.0 740.9L982.5 739.9L984.5 738.7Z"/>
<text x="994.0" y="757.0" font-size="27.5">4</text>
<path d="M357.8 812.0L361.1 812.0L362.0 813.0L362.0 830.0L357.4 830.0L357.4 817.4L352.0 817.4L352.0 814.7L354.5 813.8L356.5 812.6Z"/>
<path d="M372.8 811.0L376.1 811.0L377.0 812.0L377.0 830.0L372.4 830.0L372.4 816.7L367.0 816.7L367.0 813.9L369.5 812.9L371.5 811.7Z"/>
<text x="673.0" y="895.0" font-size="29">6</text>
<text x="328.0" y="899.0" font-size="27.5">2</text>
<path d="M435.2 956.0L438.1 956.0L439.0 957.0L439.0 975.0L434.9 975.0L434.9 961.7L430.0 961.7L430.0 958.9L432.2 957.9L434.1 956.7Z"/>
</g>
</svg>
</body></html>
